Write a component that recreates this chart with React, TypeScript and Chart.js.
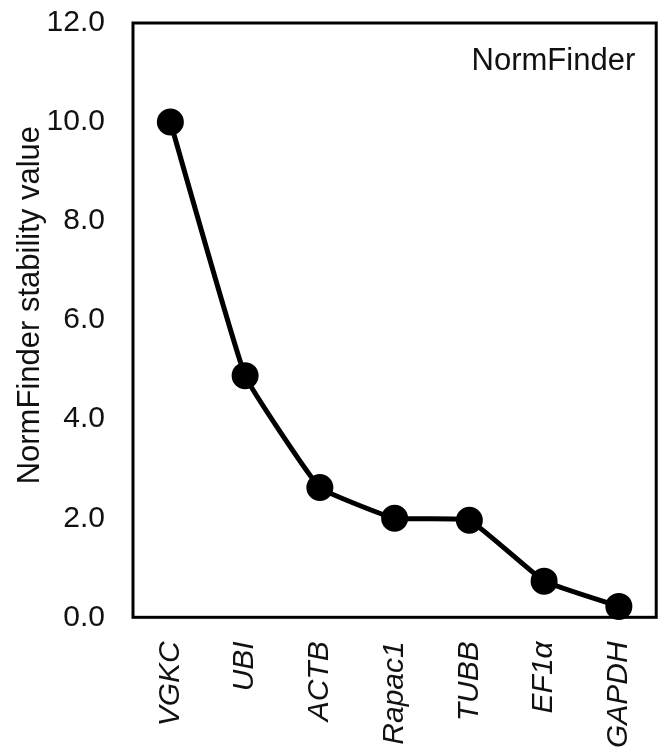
import React, { useEffect, useRef } from "react";
import { Chart, registerables } from "chart.js";

Chart.register(...registerables);

const genes = ["VGKC", "UBI", "ACTB", "Rapac1", "TUBB", "EF1α", "GAPDH"];
const stability = [10.0, 4.88, 2.62, 2.0, 1.96, 0.73, 0.22];
const yTicks = [0, 2, 4, 6, 8, 10, 12];
const panelLabel = "NormFinder";
const yTitle = "NormFinder stability value";

const FONT = "'Liberation Sans', Arial, sans-serif";

const framePlugin = {
  id: "frame",
  afterDraw(chart: any) {
    const { ctx, chartArea } = chart;
    ctx.save();
    ctx.strokeStyle = "#000";
    ctx.lineWidth = 3;
    ctx.strokeRect(chartArea.left, chartArea.top, chartArea.right - chartArea.left, chartArea.bottom - chartArea.top);
    ctx.fillStyle = "#111";
    ctx.font = `31px ${FONT}`;
    ctx.textAlign = "right";
    ctx.textBaseline = "middle";
    ctx.fillText(panelLabel, chartArea.right - 21, chartArea.top + 38);
    // y-axis title
    ctx.translate(chartArea.left - 103, (chartArea.top + chartArea.bottom) / 2 - 15);
    ctx.rotate(-Math.PI / 2);
    ctx.textAlign = "center";
    ctx.font = `31px ${FONT}`;
    ctx.fillText(yTitle, 0, 0);
    ctx.restore();
  },
};

export default function App() {
  const ref = useRef<HTMLCanvasElement>(null);
  useEffect(() => {
    const chart = new Chart(ref.current!, {
      type: "line",
      data: {
        labels: genes,
        datasets: [
          {
            data: stability,
            borderColor: "#000",
            backgroundColor: "#000",
            borderWidth: 5,
            pointRadius: 11,
            pointHoverRadius: 11,
            pointBackgroundColor: "#000",
            pointBorderColor: "#000",
            tension: 0.1,
            clip: false as any,
          },
        ],
      },
      options: {
        animation: false,
        responsive: true,
        maintainAspectRatio: false,
        layout: { padding: { top: 0, right: 0, left: 45, bottom: -14 } },
        plugins: { legend: { display: false }, tooltip: { enabled: false } },
        scales: {
          x: {
            offset: true,
            grid: { display: false, drawTicks: false },
            border: { display: false },
            ticks: {
              color: "#111",
              font: { family: FONT, size: 30, style: "italic" },
              maxRotation: 90,
              minRotation: 90,
              padding: 24,
              autoSkip: false,
            },
          },
          y: {
            min: 0,
            max: 12,
            afterBuildTicks: (axis: any) => {
              axis.ticks = yTicks.map((v) => ({ value: v }));
            },
            afterFit: (axis: any) => {
              axis.width = 88;
            },
            grid: { display: false, drawTicks: false },
            border: { display: false },
            ticks: {
              color: "#111",
              font: { family: FONT, size: 30 },
              padding: 28,
              callback: (v: any) => Number(v).toFixed(1),
            },
          },
        },
      },
      plugins: [framePlugin],
    });
    return () => chart.destroy();
  }, []);
  return (
    <div style={{ position: "fixed", left: 0, top: 0, width: 661, height: 755, overflow: "hidden", background: "#fff" }}>
      <div style={{ position: "absolute", left: 0, top: -23, width: 680, height: 781 }}>
        <canvas ref={ref} />
      </div>
    </div>
  );
}
